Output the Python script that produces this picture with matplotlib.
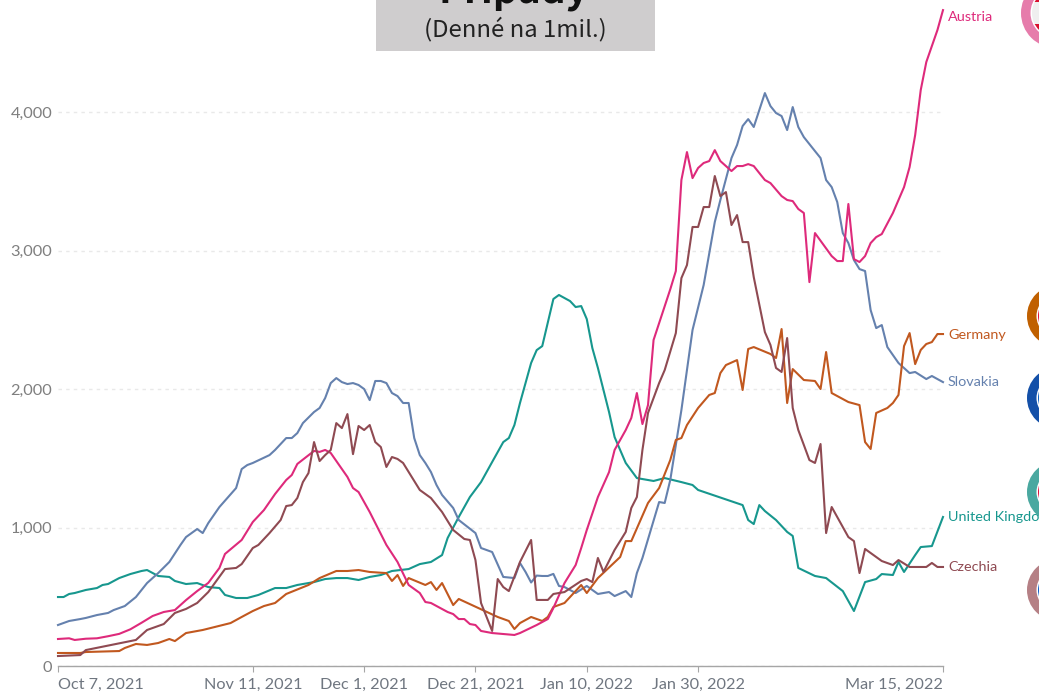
import matplotlib
matplotlib.use("Agg")
import matplotlib.pyplot as plt
from matplotlib.patches import Circle, Rectangle
import pandas as pd

START = "2021-10-07"
END = "2022-03-15"

austria_days = [0,2,3,5,7,9,11,13,15,17,19,21,23,25,27,29,30,33,35,37,39,41,42,43,46,47,48,49,52,53,54,56,59,61,63,65,66,67,70,71,72,73,74,75,76,78,80,82,83,86,88,89,91,93,94,95,97,99,100,102,103,104,105,106,107,108,110,111,112,113,114,115,116,117,118,119,121,122,123,124,125,127,128,130,131,132,133,134,135,136,139,140,141,142,143,144,145,146,147,148,150,152,153,154,155,156,158,159]
austria = [195,200,188,197,200,215,232,265,312,361,390,404,476,541,600,708,809,910,1040,1126,1242,1343,1379,1459,1553,1546,1560,1538,1365,1285,1256,1112,874,751,585,527,462,455,390,375,339,339,303,296,253,238,231,224,238,296,339,419,599,729,852,982,1220,1400,1560,1704,1791,1971,1747,1884,2354,2476,2720,2852,3509,3711,3523,3596,3632,3646,3725,3646,3574,3610,3610,3624,3610,3509,3487,3393,3365,3357,3300,3271,2772,3126,2960,2924,2924,3336,2938,2917,2960,3054,3097,3119,3271,3458,3603,3834,4159,4361,4592,4736]

slovakia_days = [0,2,4,5,7,9,10,12,14,16,18,20,22,23,25,26,27,29,32,33,34,35,38,39,41,42,43,44,46,47,48,49,50,51,52,53,54,55,56,57,58,59,60,61,62,63,64,65,66,67,68,69,71,72,75,76,78,80,82,83,84,85,86,87,88,89,90,91,93,95,96,97,99,100,102,103,104,105,108,109,110,112,114,116,118,119,121,122,123,124,125,127,128,129,130,131,132,133,134,136,137,138,139,140,141,142,143,144,145,146,147,148,149,151,153,154,156,157,159]
slovakia = [296,325,339,347,368,383,404,433,498,599,671,751,874,931,989,960,1032,1148,1285,1422,1451,1466,1523,1560,1646,1646,1682,1754,1834,1863,1935,2043,2079,2050,2036,2043,2029,2000,1920,2058,2058,2043,1971,1949,1899,1899,1646,1523,1466,1401,1307,1235,1141,1054,960,852,823,643,635,744,679,603,653,650,650,665,578,570,527,578,549,520,534,505,541,498,671,780,1184,1177,1343,1848,2426,2751,3206,3365,3668,3762,3899,3949,3892,4137,4043,3993,3971,3870,4036,3892,3819,3718,3668,3509,3458,3350,3126,3054,2931,2866,2852,2570,2440,2462,2303,2188,2115,2123,2072,2094,2050]

uk_days = [0,1,2,3,5,7,8,9,11,13,15,16,18,20,21,23,25,27,29,30,32,34,36,39,41,43,46,48,50,52,54,56,58,60,63,65,67,69,70,72,74,76,78,80,81,82,83,85,86,87,89,90,92,93,94,95,96,97,99,100,102,104,107,109,112,114,115,123,124,125,126,127,129,131,132,133,136,138,141,143,145,147,148,150,151,152,154,155,157,159]
uk = [498,498,520,527,549,563,585,592,635,664,686,693,650,643,614,592,599,570,563,513,491,491,513,563,563,585,606,628,635,635,621,643,657,686,700,736,751,801,924,1076,1220,1328,1473,1617,1646,1740,1899,2188,2281,2310,2650,2679,2635,2592,2599,2505,2296,2152,1834,1653,1466,1357,1336,1357,1328,1307,1271,1162,1054,1025,1162,1119,1054,968,939,708,650,635,541,397,606,628,664,657,751,679,801,859,866,1076]

germany_days = [0,4,5,11,12,14,16,18,20,21,23,26,31,33,35,37,39,41,45,47,50,52,54,56,59,60,61,62,63,66,67,68,69,71,72,79,81,82,83,85,87,88,89,91,94,95,97,101,102,103,106,108,110,111,112,113,115,117,118,119,120,122,123,124,125,128,129,130,131,132,134,136,137,138,139,142,144,145,146,147,149,150,151,152,153,154,155,156,157,158,159]
germany = [94,94,101,108,130,159,152,166,195,180,238,260,310,354,397,433,455,520,585,635,686,686,693,679,671,614,657,578,635,585,606,549,599,440,484,354,325,267,310,354,325,354,426,455,585,527,635,787,902,902,1177,1285,1487,1632,1646,1740,1863,1957,1971,2115,2173,2209,1993,2289,2303,2253,2224,2433,1899,2144,2065,2058,2000,2267,1971,1906,1884,1617,1567,1827,1863,1899,1957,2310,2404,2180,2282,2325,2339,2397,2397]

czechia_days = [0,4,5,14,16,19,21,23,25,27,30,32,33,35,36,38,40,41,42,43,44,45,46,47,48,49,50,51,52,53,54,55,56,57,58,59,60,61,62,65,67,69,71,73,74,75,76,78,79,80,81,83,85,86,88,89,91,94,95,96,97,98,100,102,103,104,105,106,108,109,111,112,113,114,115,116,117,118,119,120,121,122,123,124,125,127,128,129,130,131,132,133,134,135,136,137,138,139,142,143,144,145,148,150,151,153,156,157,158,159]
czechia = [72,79,115,188,260,303,383,412,455,534,700,708,736,852,874,960,1054,1155,1162,1213,1328,1393,1617,1480,1523,1560,1754,1718,1819,1530,1733,1704,1740,1617,1581,1437,1509,1495,1466,1271,1213,1112,982,917,910,765,455,253,628,570,541,751,910,477,477,520,534,614,628,606,780,679,838,968,1141,1220,1560,1827,2043,2137,2404,2801,2895,3170,3170,3314,3314,3538,3393,3422,3184,3256,3061,3061,2808,2411,2318,2152,2123,2368,1863,1704,1596,1487,1466,1603,960,1148,931,902,671,845,758,729,765,715,715,744,715,715]

y_ticks = [0, 1000, 2000, 3000, 4000]
y_tick_labels = ["0", "1,000", "2,000", "3,000", "4,000"]
x_tick_dates = ["2021-10-07", "2021-11-11", "2021-12-01", "2021-12-21", "2022-01-10", "2022-01-30", "2022-03-15"]
x_tick_labels = ["Oct 7, 2021", "Nov 11, 2021", "Dec 1, 2021", "Dec 21, 2021", "Jan 10, 2022", "Jan 30, 2022", "Mar 15, 2022"]

W, H = 1039, 692
plt.rcParams["font.family"] = ["Lato", "DejaVu Sans"]
fig = plt.figure(figsize=(W / 100, H / 100), dpi=100, facecolor="white")
ax = fig.add_axes([58 / W, (H - 666) / H, 885 / W, 666 / H])
ax.set_facecolor("none")

start = pd.Timestamp(START)
def to_dates(days):
    return [start + pd.Timedelta(days=int(d)) for d in days]

series = [
    ("United Kingdom", uk_days, uk, "#17978E", 0),
    ("Slovakia", slovakia_days, slovakia, "#6581AE", 0),
    ("Germany", germany_days, germany, "#C1581F", -1),
    ("Austria", austria_days, austria, "#DE2A7B", -7),
    ("Czechia", czechia_days, czechia, "#8F4A52", 0),
]
for name, days, vals, col, dy in series:
    ax.plot(to_dates(days), vals, color=col, lw=1.5, solid_joinstyle="round", clip_on=False, zorder=3)
    ax.annotate(name, xy=(pd.Timestamp(END), vals[-1]), xytext=(3.6, dy * 0.72), textcoords="offset points",
                color=col, fontsize=10.4, va="center", ha="left", annotation_clip=False, zorder=6, clip_on=False)

ax.set_xlim(start, pd.Timestamp(END))
ax.set_ylim(0, 4809)
ax.set_yticks(y_ticks, y_tick_labels)
ax.set_xticks(pd.to_datetime(x_tick_dates), x_tick_labels)
ax.xaxis.set_major_formatter(plt.FixedFormatter(x_tick_labels))
ax.grid(axis="y", color="#E9E9E9", lw=1, ls=(0, (2.5, 3)), zorder=0)
ax.grid(axis="x", visible=False)
for s in ("top", "right", "left"):
    ax.spines[s].set_visible(False)
ax.spines["bottom"].set_color("#A6A6A6")
ax.spines["bottom"].set_linewidth(1)
ax.tick_params(axis="y", length=0, pad=4, labelsize=11.8, labelcolor="#7F7F7F")
ax.tick_params(axis="x", length=4.5, width=0.8, color="#A6A6A6", pad=4, labelsize=11.7, labelcolor="#6F7680")
xl = ax.get_xticklabels()
xl[0].set_ha("left")
xl[-1].set_ha("right")

# overlay in pixel units for the title box and the flag badges
ov = fig.add_axes([0, 0, 1, 1], zorder=5)
ov.set_xlim(0, W)
ov.set_ylim(H, 0)
ov.axis("off")
ov.patch.set_alpha(0)

ov.add_patch(Rectangle((376, -2), 279, 53, fc="#CFCDCE", ec="none"))
ov.text(514, 3, "Prípady", family="Noto Sans CJK JP", weight="bold", fontsize=28,
        ha="center", va="baseline", color="#111111")
ov.text(515, 29, "(Denné na 1mil.)", family="Noto Sans CJK JP", fontsize=17.2, ha="center", va="center",
        color="#222222")

def badge(cx, cy, r, ring, stripes):
    ov.add_patch(Circle((cx, cy), r, fc=ring, ec="none", zorder=2))
    ov.add_patch(Circle((cx, cy), r - 9.5, fc="white", ec="none", zorder=3))
    clip = Circle((cx, cy), r - 11, transform=ov.transData)
    for y0, h, c in stripes:
        rect = Rectangle((cx - r, y0), 2 * r, h, fc=c, ec="none", zorder=4)
        ov.add_patch(rect)
        rect.set_clip_path(clip)

badge(1056, 13, 35, "#E67CAB", [(-25, 27, "#D8102F"), (2, 22, "#EFEFEF"), (24, 25, "#D8102F")])
badge(1058, 316, 31, "#C06000", [(285, 23, "#111111"), (308, 19, "#E0103A"), (327, 20, "#F5C400")])
badge(1058, 398, 31, "#1450A8", [(367, 18, "#FFFFFF"), (385, 27, "#1060C0"), (412, 18, "#E01030")])
badge(1058, 492, 31, "#4AA8A0", [(460, 24, "#3060B0"), (484, 13, "#E0103A"), (497, 25, "#3060B0")])
badge(1058, 590, 31, "#B58085", [(559, 62, "#1060C8")])

fig.savefig("out.png", dpi=100, facecolor="white")
